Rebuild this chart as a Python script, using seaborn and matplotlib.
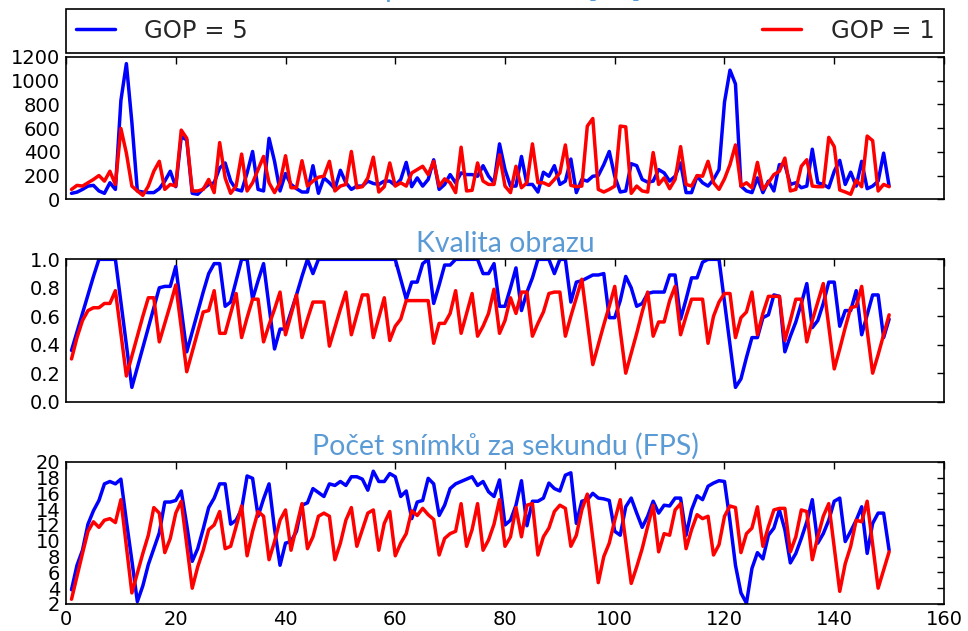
import matplotlib
matplotlib.use("Agg")
import matplotlib.pyplot as plt
import pandas as pd
import seaborn as sns

# snímky 1..150
snimek = list(range(1, 151))

# zpoždění [ms]
zpozdeni_gop5 = [
    50, 60, 83, 111, 117, 70, 50, 139, 83, 833,
    1144, 650, 70, 61, 56, 56, 89, 153, 236, 106,
    528, 500, 50, 42, 89, 125, 139, 264, 306, 153,
    83, 70, 222, 403, 83, 70, 514, 320, 70, 217,
    125, 89, 61, 61, 283, 50, 180, 139, 89, 244,
    139, 83, 111, 111, 153, 133, 125, 153, 153, 117,
    167, 311, 106, 180, 111, 167, 333, 83, 125, 208,
    139, 222, 208, 208, 194, 283, 194, 139, 467, 250,
    111, 111, 361, 125, 125, 61, 228, 194, 283, 125,
    153, 339, 56, 167, 153, 194, 200, 292, 403, 194,
    61, 70, 300, 283, 167, 144, 153, 250, 222, 153,
    194, 306, 56, 56, 194, 139, 111, 167, 250, 819,
    1089, 972, 111, 70, 56, 180, 56, 153, 70, 292,
    292, 125, 139, 97, 111, 422, 139, 125, 97, 236,
    328, 125, 228, 111, 320, 89, 111, 153, 389, 111,
]
zpozdeni_gop1 = [
    83, 117, 111, 139, 167, 200, 153, 236, 125, 597,
    389, 111, 70, 33, 111, 236, 320, 83, 125, 111,
    583, 514, 70, 70, 83, 167, 56, 478, 180, 50,
    111, 381, 70, 139, 250, 361, 139, 56, 139, 367,
    97, 97, 325, 111, 153, 186, 194, 320, 70, 111,
    125, 403, 97, 106, 180, 355, 61, 106, 306, 111,
    139, 111, 222, 250, 278, 208, 320, 111, 172, 139,
    56, 439, 70, 75, 306, 153, 125, 125, 375, 111,
    56, 278, 97, 139, 467, 139, 139, 117, 167, 222,
    458, 117, 106, 111, 617, 681, 83, 61, 83, 111,
    617, 611, 50, 111, 70, 61, 394, 125, 180, 89,
    167, 444, 125, 111, 200, 194, 320, 139, 83, 172,
    292, 458, 111, 139, 97, 311, 83, 139, 208, 236,
    347, 70, 83, 278, 333, 111, 106, 106, 522, 444,
    78, 61, 42, 161, 106, 533, 494, 70, 125, 106,
]

# kvalita obrazu
kvalita_gop5 = [
    0.36, 0.49, 0.62, 0.75, 0.88, 1.0, 1.0, 1.0, 1.0, 0.7,
    0.4, 0.1, 0.24, 0.38, 0.52, 0.66, 0.8, 0.81, 0.81, 0.95,
    0.65, 0.35, 0.49, 0.63, 0.77, 0.9, 0.97, 0.97, 0.67, 0.7,
    0.85, 1.0, 1.0, 0.72, 0.85, 0.97, 0.67, 0.37, 0.51, 0.51,
    0.63, 0.75, 0.88, 1.0, 0.9, 1.0, 1.0, 1.0, 1.0, 1.0,
    1.0, 1.0, 1.0, 1.0, 1.0, 1.0, 1.0, 1.0, 1.0, 1.0,
    0.86, 0.72, 0.84, 0.84, 0.97, 1.0, 0.69, 0.82, 0.96, 0.96,
    1.0, 1.0, 1.0, 1.0, 1.0, 0.9, 0.9, 0.97, 0.67, 0.67,
    0.8, 0.94, 0.64, 0.77, 0.87, 1.0, 1.0, 1.0, 0.9, 1.0,
    1.0, 0.7, 0.84, 0.85, 0.87, 0.89, 0.89, 0.9, 0.59, 0.59,
    0.71, 0.88, 0.8, 0.67, 0.69, 0.76, 0.77, 0.77, 0.77, 0.89,
    0.89, 0.58, 0.72, 0.87, 0.87, 0.98, 1.0, 1.0, 1.0, 0.7,
    0.4, 0.1, 0.16, 0.31, 0.45, 0.45, 0.59, 0.61, 0.75, 0.74,
    0.35, 0.46, 0.56, 0.69, 0.83, 0.52, 0.57, 0.69, 0.84, 0.84,
    0.53, 0.64, 0.64, 0.78, 0.47, 0.61, 0.75, 0.75, 0.45, 0.58,
]
kvalita_gop1 = [
    0.30, 0.45, 0.57, 0.64, 0.66, 0.66, 0.69, 0.69, 0.78, 0.48,
    0.18, 0.32, 0.46, 0.6, 0.73, 0.73, 0.42, 0.55, 0.68, 0.82,
    0.52, 0.21, 0.35, 0.49, 0.63, 0.64, 0.78, 0.48, 0.48, 0.62,
    0.76, 0.45, 0.59, 0.72, 0.72, 0.42, 0.54, 0.65, 0.77, 0.47,
    0.61, 0.75, 0.45, 0.58, 0.70, 0.70, 0.70, 0.39, 0.52, 0.65,
    0.77, 0.47, 0.61, 0.75, 0.75, 0.45, 0.59, 0.73, 0.43, 0.53,
    0.58, 0.71, 0.71, 0.71, 0.71, 0.71, 0.41, 0.55, 0.55, 0.62,
    0.78, 0.48, 0.62, 0.76, 0.46, 0.53, 0.62, 0.79, 0.48, 0.57,
    0.73, 0.62, 0.77, 0.77, 0.46, 0.55, 0.63, 0.76, 0.77, 0.77,
    0.46, 0.6, 0.73, 0.86, 0.56, 0.26, 0.4, 0.54, 0.67, 0.81,
    0.5, 0.2, 0.34, 0.48, 0.63, 0.77, 0.46, 0.56, 0.56, 0.71,
    0.81, 0.47, 0.6, 0.72, 0.72, 0.72, 0.41, 0.6, 0.7, 0.76,
    0.76, 0.45, 0.59, 0.63, 0.77, 0.47, 0.62, 0.74, 0.74, 0.74,
    0.43, 0.57, 0.72, 0.72, 0.42, 0.57, 0.7, 0.83, 0.53, 0.23,
    0.37, 0.52, 0.66, 0.67, 0.81, 0.5, 0.2, 0.33, 0.47, 0.61,
]

# FPS
fps_gop5 = [
    3.8, 6.9, 8.8, 12.1, 13.8, 15.1, 17.2, 17.5, 17.2, 17.8,
    12.5, 7.5, 2.3, 4.3, 7.0, 9.0, 11.0, 14.9, 14.9, 15.1,
    16.3, 12.0, 7.4, 9.0, 11.5, 14.2, 15.4, 17.2, 17.2, 12.1,
    12.6, 14.0, 18.2, 17.9, 13.1, 15.3, 17.2, 11.5, 6.9, 9.7,
    9.9, 11.2, 14.5, 14.8, 16.6, 16.1, 15.6, 17.2, 17.0, 17.5,
    17.0, 18.1, 18.1, 17.8, 16.4, 18.8, 17.5, 17.5, 18.5, 18.1,
    15.6, 16.3, 12.8, 14.9, 15.1, 17.9, 17.2, 13.2, 14.5, 16.6,
    17.2, 17.5, 17.8, 18.1, 17.0, 17.5, 16.2, 15.6, 17.7, 12.0,
    12.6, 14.5, 17.6, 11.9, 15.0, 15.0, 15.4, 17.3, 16.6, 16.3,
    18.3, 18.6, 12.2, 15.0, 15.2, 16.0, 15.4, 15.3, 15.1, 11.2,
    10.7, 14.3, 15.4, 13.5, 11.7, 13.1, 15.0, 13.5, 14.5, 14.4,
    15.4, 15.4, 10.7, 13.9, 15.7, 15.2, 16.9, 17.3, 17.6, 17.5,
    12.5, 6.9, 3.4, 2.1, 6.5, 8.5, 7.7, 10.7, 11.6, 13.9,
    11.4, 7.2, 8.4, 10.3, 12.4, 15.2, 9.7, 10.9, 12.6, 15.0,
    15.4, 9.9, 11.2, 12.6, 14.3, 8.4, 12.2, 13.5, 13.5, 8.8,
]
fps_gop1 = [
    2.6, 5.5, 8.4, 11.2, 12.4, 11.7, 12.6, 12.8, 12.3, 15.2,
    9.3, 3.4, 5.9, 8.4, 10.7, 14.2, 13.5, 8.5, 10.3, 13.5,
    15.0, 9.5, 4.0, 6.7, 8.8, 11.4, 12.0, 13.7, 9.0, 9.3,
    11.8, 14.4, 8.1, 11.2, 13.7, 13.1, 7.6, 9.9, 12.6, 13.9,
    8.8, 11.8, 14.7, 9.0, 10.5, 13.1, 13.5, 13.1, 7.6, 9.7,
    12.6, 14.2, 9.3, 11.4, 13.5, 13.9, 8.8, 12.2, 13.7, 8.1,
    9.7, 10.9, 13.8, 13.2, 14.1, 13.3, 12.7, 8.2, 10.3, 10.9,
    11.2, 14.7, 9.3, 11.4, 14.7, 8.8, 10.1, 12.1, 15.2, 9.3,
    10.5, 14.2, 10.5, 14.5, 14.7, 8.2, 10.5, 11.6, 13.7, 14.5,
    14.1, 9.3, 10.7, 13.9, 15.9, 10.3, 4.7, 8.0, 9.7, 12.6,
    15.2, 9.9, 4.6, 6.7, 9.0, 11.8, 14.5, 8.6, 10.9, 10.7,
    13.9, 14.7, 9.0, 11.4, 13.3, 12.8, 13.1, 8.2, 9.5, 13.1,
    14.4, 14.2, 8.5, 10.9, 11.6, 14.3, 9.3, 11.8, 13.9, 14.1,
    14.1, 8.6, 10.5, 13.9, 13.7, 7.6, 10.5, 13.1, 14.7, 9.2,
    3.6, 7.1, 9.3, 12.6, 12.4, 15.0, 9.5, 4.0, 6.3, 8.6,
]

skupiny = ['GOP = 5', 'GOP = 1']
barvy = {'GOP = 5': 'blue', 'GOP = 1': 'red'}
titulky = ['Zpoždění snímků [ms]', 'Kvalita obrazu', 'Počet snímků za sekundu (FPS)']


def tabulka(a, b):
    df = pd.concat([
        pd.DataFrame({'snimek': snimek, 'hodnota': a, 'GOP': skupiny[0]}),
        pd.DataFrame({'snimek': snimek, 'hodnota': b, 'GOP': skupiny[1]}),
    ])
    df.reset_index(drop=True, inplace=True)
    return df


sns.set_style("white")
plt.rcParams['font.family'] = ['DejaVu Sans']

fig, axes = plt.subplots(3, 1, sharex=True, figsize=(9.68, 6.31), dpi=100)
fig.subplots_adjust(left=0.0682, right=0.9752, top=0.9097, bottom=0.0428, hspace=0.4225)

data = [tabulka(zpozdeni_gop5, zpozdeni_gop1),
        tabulka(kvalita_gop5, kvalita_gop1),
        tabulka(fps_gop5, fps_gop1)]
ylims = [(0, 1200), (0, 1.0), (2, 20)]
yticks = [range(0, 1201, 200), [0.0, 0.2, 0.4, 0.6, 0.8, 1.0], range(2, 21, 2)]

for ax, df, yl, yt, tit in zip(axes, data, ylims, yticks, titulky):
    sns.lineplot(data=df, x='snimek', y='hodnota', hue='GOP', hue_order=skupiny,
                 palette=barvy, lw=2.5, legend=False, ax=ax)
    ax.set_xlim(0, 160)
    ax.set_xticks(range(0, 161, 20))
    ax.set_ylim(*yl)
    ax.set_yticks(list(yt))
    ax.set_xlabel('')
    ax.set_ylabel('')
    ax.tick_params(direction='in', top=True, right=True, length=5, width=1,
                   labelsize=14, colors='black', pad=4)
    for s in ax.spines.values():
        s.set_color('black')
        s.set_linewidth(1.2)
    ax.set_title(tit, family=['Lato', 'DejaVu Sans'], fontsize=20.5, color='#5b9bd5', pad=5)

axes[1].set_yticklabels(['0.0', '0.2', '0.4', '0.6', '0.8', '1.0'])

# horní titulek je schovaný za legendou
axes[0].set_title(titulky[0], family=['Lato', 'DejaVu Sans'], fontsize=20.5,
                  color='#5b9bd5', pad=43)

leg = axes[0].legend(axes[0].lines[:2], skupiny, loc='lower left',
                     bbox_to_anchor=(0, 1.03, 1, 0.1), mode='expand', ncol=2,
                     borderaxespad=0, fontsize=17.5, fancybox=False, framealpha=1,
                     edgecolor='black', handlelength=1.6, handletextpad=1.2)
leg.get_frame().set_linewidth(1.2)

fig.savefig('out.png', dpi=100)
